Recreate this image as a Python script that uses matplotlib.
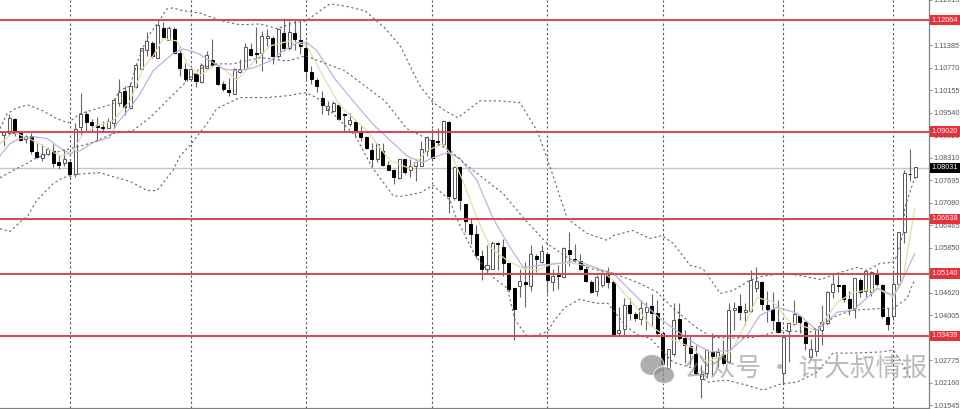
import numpy as np
import matplotlib
matplotlib.use("Agg")
import matplotlib.pyplot as plt
from matplotlib.patches import Ellipse

# candles, first one is bar number 1
opens = [1.0894,1.0897,1.0937,1.0897,1.0883,1.0891,1.0847,1.0831,1.0842,1.0850,1.0820,1.0815,1.0820,1.0785,1.0915,
         1.0951,1.0929,1.0921,1.0915,1.0913,1.0926,1.0981,1.1014,1.0967,1.1025,1.1074,1.1125,1.1145,1.1104,1.1185,
         1.1153,1.1183,1.1117,1.1074,1.1046,1.1060,1.1038,1.1076,1.1098,1.1079,1.1033,1.1016,1.1005,1.1065,1.1074,
         1.1128,1.1117,1.1117,1.1158,1.1158,1.1109,1.1172,1.1131,1.1172,1.1153,1.1131,1.1065,1.1043,1.0995,1.0962,
         1.0959,1.0975,1.0951,1.0924,1.0929,1.0900,1.0888,1.0853,1.0826,1.0850,1.0812,1.0798,1.0774,1.0826,1.0796,
         1.0809,1.0809,1.0850,1.0880,1.0877,1.0869,1.0929,1.0722,1.0804,1.0703,1.0651,1.0621,1.0561,1.0528,1.0528,
         1.0599,1.0588,1.0542,1.0474,1.0479,1.0490,1.0479,1.0561,1.0545,1.0569,1.0490,1.0509,1.0504,1.0578,1.0553,
         1.0548,1.0526,1.0490,1.0466,1.0482,1.0509,1.0490,1.0351,1.0362,1.0428,1.0403,1.0389,1.0409,1.0425,1.0406,
         1.0351,1.0256,1.0294,1.0389,1.0338,1.0316,1.0294,1.0226,1.0242,1.0300,1.0286,1.0294,1.0272,1.0414,1.0425,
         1.0409,1.0411,1.0474,1.0490,1.0428,1.0417,1.0381,1.0242,1.0357,1.0376,1.0398,1.0381,1.0286,1.0302,1.0359,
         1.0379,1.0463,1.0482,1.0482,1.0444,1.0419,1.0498,1.0466,1.0463,1.0515,1.0482,1.0395,1.0398,1.0487,1.0629,
         1.0787,1.0777]
highs = [1.0902,1.0951,1.0938,1.0898,1.0894,1.0897,1.0872,1.0869,1.0861,1.0869,1.0839,1.0855,1.0823,1.0926,1.1008,
         1.0959,1.0937,1.0943,1.0932,1.0940,1.0995,1.1046,1.1027,1.1035,1.1090,1.1131,1.1174,1.1150,1.1202,1.1202,
         1.1191,1.1188,1.1136,1.1090,1.1079,1.1063,1.1090,1.1123,1.1155,1.1082,1.1041,1.1049,1.1076,1.1101,1.1145,
         1.1145,1.1188,1.1177,1.1183,1.1164,1.1185,1.1213,1.1204,1.1207,1.1204,1.1150,1.1082,1.1049,1.1014,1.0986,
         1.0986,1.0981,1.0954,1.0954,1.0932,1.0918,1.0891,1.0872,1.0870,1.0872,1.0823,1.0801,1.0828,1.0828,1.0828,
         1.0828,1.0877,1.0891,1.0910,1.0913,1.0935,1.0932,1.0807,1.0807,1.0704,1.0665,1.0646,1.0580,1.0591,1.0602,
         1.0600,1.0610,1.0543,1.0475,1.0528,1.0545,1.0591,1.0569,1.0591,1.0570,1.0528,1.0537,1.0586,1.0629,1.0594,
         1.0567,1.0534,1.0496,1.0509,1.0523,1.0531,1.0496,1.0422,1.0447,1.0447,1.0409,1.0441,1.0436,1.0458,1.0441,
         1.0354,1.0308,1.0433,1.0433,1.0359,1.0346,1.0319,1.0264,1.0308,1.0351,1.0311,1.0332,1.0433,1.0436,1.0458,
         1.0433,1.0523,1.0531,1.0493,1.0468,1.0463,1.0441,1.0340,1.0379,1.0441,1.0400,1.0382,1.0335,1.0363,1.0428,
         1.0466,1.0512,1.0509,1.0487,1.0468,1.0502,1.0502,1.0523,1.0520,1.0528,1.0487,1.0419,1.0523,1.0628,1.0796,
         1.0855,1.0805]
lows = [1.0863,1.0894,1.0891,1.0877,1.0872,1.0842,1.0831,1.0823,1.0839,1.0804,1.0801,1.0809,1.0777,1.0779,1.0891,
        1.0905,1.0905,1.0877,1.0905,1.0912,1.0913,1.0973,1.0948,1.0965,1.1022,1.1073,1.1109,1.1104,1.1103,1.1158,
        1.1152,1.1115,1.1055,1.1041,1.1041,1.1025,1.1035,1.1075,1.1082,1.1030,1.1014,1.1000,1.1004,1.1063,1.1073,
        1.1109,1.1090,1.1068,1.1136,1.1087,1.1104,1.1123,1.1125,1.1125,1.1115,1.1041,1.1033,1.1011,1.0951,1.0948,
        1.0956,1.0935,1.0900,1.0918,1.0886,1.0877,1.0855,1.0809,1.0820,1.0809,1.0796,1.0760,1.0773,1.0787,1.0779,
        1.0768,1.0808,1.0836,1.0823,1.0864,1.0864,1.0681,1.0714,1.0687,1.0627,1.0594,1.0558,1.0496,1.0512,1.0527,
        1.0523,1.0507,1.0463,1.0332,1.0449,1.0422,1.0468,1.0518,1.0544,1.0460,1.0468,1.0471,1.0503,1.0534,1.0545,
        1.0523,1.0490,1.0460,1.0452,1.0477,1.0474,1.0346,1.0343,1.0343,1.0387,1.0384,1.0373,1.0359,1.0370,1.0346,
        1.0245,1.0253,1.0289,1.0332,1.0270,1.0264,1.0241,1.0174,1.0229,1.0237,1.0259,1.0264,1.0270,1.0359,1.0387,
        1.0373,1.0409,1.0463,1.0414,1.0381,1.0359,1.0351,1.0215,1.0272,1.0373,1.0351,1.0305,1.0283,1.0289,1.0319,
        1.0373,1.0447,1.0463,1.0436,1.0400,1.0392,1.0449,1.0449,1.0452,1.0479,1.0392,1.0359,1.0387,1.0485,1.0597,
        1.0766,1.0776]
closes = [1.0900,1.0940,1.0897,1.0880,1.0891,1.0850,1.0834,1.0842,1.0855,1.0817,1.0812,1.0826,1.0787,1.0910,1.0951,
          1.0929,1.0921,1.0915,1.0913,1.0932,1.0989,1.1011,1.0970,1.1027,1.1084,1.1130,1.1150,1.1109,1.1194,1.1161,
          1.1185,1.1117,1.1076,1.1046,1.1074,1.1041,1.1084,1.1112,1.1084,1.1033,1.1019,1.1011,1.1074,1.1074,1.1134,
          1.1112,1.1115,1.1164,1.1164,1.1109,1.1183,1.1131,1.1174,1.1155,1.1136,1.1068,1.1046,1.1027,1.0975,1.0973,
          1.0981,1.0937,1.0948,1.0935,1.0905,1.0888,1.0858,1.0826,1.0869,1.0812,1.0798,1.0779,1.0828,1.0793,1.0809,
          1.0820,1.0855,1.0886,1.0831,1.0875,1.0932,1.0727,1.0804,1.0716,1.0657,1.0621,1.0564,1.0528,1.0537,1.0599,
          1.0596,1.0542,1.0471,1.0417,1.0493,1.0487,1.0567,1.0553,1.0575,1.0496,1.0507,1.0507,1.0585,1.0567,1.0550,
          1.0528,1.0493,1.0463,1.0504,1.0515,1.0490,1.0348,1.0359,1.0428,1.0406,1.0392,1.0419,1.0422,1.0406,1.0351,
          1.0267,1.0308,1.0387,1.0338,1.0319,1.0297,1.0242,1.0239,1.0305,1.0289,1.0300,1.0270,1.0414,1.0419,1.0409,
          1.0414,1.0496,1.0493,1.0430,1.0417,1.0387,1.0354,1.0340,1.0379,1.0403,1.0381,1.0324,1.0308,1.0362,1.0381,
          1.0463,1.0487,1.0479,1.0444,1.0419,1.0501,1.0463,1.0520,1.0518,1.0485,1.0398,1.0376,1.0487,1.0627,1.0790,
          1.0785,1.0804]

# bands and averages at these bar numbers
upper_x = [0.3,1.6,3.4,5.4,8.1,10.7,12.7,14.9,18.5,20.9,22.0,24.0,25.4,27.1,28.9,30.7,31.8,33.6,36.7,39.1,40.9,44.0,47.7,50.8,53.7,56.0,58.6,60.4,63.1,66.8,70.4,73.2,76.8,79.2,81.4,83.7,85.9,87.7,91.4,95.0,98.1,100.1,103.6,107.2,110.9,112.0,115.6,118.7,120.9,122.9,126.0,128.3,131.5,133.8,136.9,139.3,142.9,146.0,149.7,152.8,156.4,158.2,160.6,163.0,163.7,164.8,165.1,166.9]
upper_y = [1.0910,1.0951,1.0967,1.0975,1.0959,1.0937,1.0926,1.0951,1.0967,1.0978,1.1014,1.1027,1.1095,1.1158,1.1196,1.1237,1.1240,1.1232,1.1226,1.1213,1.1204,1.1194,1.1196,1.1183,1.1199,1.1204,1.1232,1.1251,1.1245,1.1232,1.1185,1.1136,1.1027,1.0981,1.0959,1.0940,1.0965,1.0986,1.0986,1.0981,1.0905,1.0823,1.0665,1.0624,1.0605,1.0618,1.0632,1.0610,1.0618,1.0597,1.0537,1.0528,1.0460,1.0468,1.0496,1.0507,1.0515,1.0509,1.0498,1.0515,1.0531,1.0523,1.0542,1.0545,1.0564,1.0627,1.0695,1.0776]
band2_x = [0.3,2.7,5.2,7.0,13.0,17.2,20.9,24.5,27.6,30.7,34.4,36.7,39.8,42.7,47.7,52.6,56.0,63.1,70.4,74.4,79.5,82.3,85.4,91.9,95.6,99.9,103.6,107.8,112.0,116.9,120.0,122.9,127.3,130.0,133.3,137.5,142.9,147.8,152.8,155.7,160.6,163.0,165.5,166.9]
band2_y = [1.0776,1.0796,1.0815,1.0831,1.0855,1.0872,1.0897,1.0905,1.0940,1.0986,1.1041,1.1074,1.1087,1.1087,1.1104,1.1095,1.1109,1.1068,1.0986,1.0910,1.0872,1.0850,1.0809,1.0733,1.0667,1.0597,1.0558,1.0528,1.0515,1.0487,1.0463,1.0419,1.0365,1.0340,1.0338,1.0340,1.0359,1.0354,1.0400,1.0414,1.0419,1.0419,1.0447,1.0498]
lower_x = [0.3,2.1,3.9,5.4,7.0,10.0,11.8,14.0,18.5,21.6,24.0,27.1,28.9,31.8,33.1,34.9,38.0,39.8,44.0,48.9,52.6,55.9,58.0,65.0,68.1,71.9,73.2,76.8,79.2,82.3,83.2,86.8,90.1,92.7,94.1,96.3,98.1,100.1,101.0,103.2,105.9,109.0,111.0,112.0,114.5,116.9,118.7,122.9,126.5,129.1,132.7,136.4,139.3,142.4,145.5,149.1,152.0,155.7,160.6,163.0,164.8,166.1]
lower_y = [1.0637,1.0629,1.0654,1.0673,1.0714,1.0760,1.0776,1.0785,1.0790,1.0776,1.0766,1.0741,1.0741,1.0796,1.0836,1.0864,1.0924,1.0965,1.0995,1.0995,1.1000,1.1008,1.0995,1.0891,1.0804,1.0727,1.0725,1.0735,1.0755,1.0714,1.0673,1.0564,1.0504,1.0474,1.0387,1.0343,1.0346,1.0357,1.0381,1.0422,1.0444,1.0433,1.0433,1.0414,1.0368,1.0343,1.0338,1.0272,1.0256,1.0218,1.0223,1.0209,1.0196,1.0212,1.0218,1.0245,1.0297,1.0297,1.0300,1.0305,1.0264,1.0229]
slow_x = [0.3,2.1,3.9,6.3,8.9,11.2,13.0,14.9,17.2,20.3,21.6,24.0,25.8,28.2,30.7,31.8,33.6,36.2,38.6,40.9,43.5,46.4,49.5,51.9,54.4,56.2,58.0,61.3,64.6,68.1,70.8,74.4,77.2,79.2,81.9,84.1,87.2,90.1,93.2,95.6,98.7,102.3,105.4,109.0,112.0,116.9,120.5,122.9,127.3,129.6,133.3,136.4,138.7,141.8,145.5,149.1,152.8,155.7,160.1,163.0,164.2,166.9]
slow_y = [1.0836,1.0869,1.0883,1.0888,1.0883,1.0858,1.0842,1.0850,1.0872,1.0886,1.0924,1.0967,1.1005,1.1068,1.1101,1.1115,1.1128,1.1117,1.1095,1.1074,1.1068,1.1076,1.1095,1.1123,1.1145,1.1145,1.1123,1.1046,1.0986,1.0924,1.0886,1.0836,1.0817,1.0831,1.0845,1.0828,1.0768,1.0665,1.0586,1.0531,1.0537,1.0542,1.0550,1.0528,1.0515,1.0441,1.0392,1.0365,1.0319,1.0300,1.0305,1.0346,1.0400,1.0422,1.0406,1.0359,1.0409,1.0414,1.0474,1.0455,1.0482,1.0569]
fast_x = [0.3,2.7,5.2,8.1,11.2,13.4,15.4,18.0,20.9,24.0,26.3,28.2,30.0,32.5,34.4,36.7,39.8,43.5,46.4,49.5,53.1,56.2,58.6,62.2,67.1,71.3,75.0,78.1,81.0,82.6,84.6,87.2,89.6,92.7,95.6,98.1,101.0,104.7,109.0,112.0,116.9,118.7,121.8,126.5,129.1,133.3,135.1,138.2,141.1,144.2,149.1,152.8,155.7,160.1,163.0,164.8,166.9]
fast_y = [1.0869,1.0900,1.0886,1.0864,1.0836,1.0842,1.0897,1.0918,1.0932,1.0986,1.1074,1.1109,1.1155,1.1150,1.1087,1.1055,1.1087,1.1043,1.1090,1.1136,1.1150,1.1136,1.1068,1.0973,1.0905,1.0823,1.0801,1.0850,1.0869,1.0836,1.0768,1.0665,1.0586,1.0550,1.0528,1.0523,1.0542,1.0542,1.0531,1.0496,1.0409,1.0373,1.0340,1.0311,1.0272,1.0300,1.0346,1.0449,1.0436,1.0381,1.0359,1.0436,1.0463,1.0474,1.0449,1.0504,1.0692]

levels = [1.12064, 1.09020, 1.06638, 1.05140, 1.03439]
last_price = 1.08031
price_ticks = [1.12615, 1.12000, 1.11385, 1.10770, 1.10155, 1.09540, 1.08925, 1.08310, 1.07695, 1.07080,
               1.06465, 1.05850, 1.05235, 1.04620, 1.04005, 1.03390, 1.02775, 1.02160, 1.01545]
period_bars = [13, 35, 56, 79, 100, 121, 143, 163]
watermark = "公众号 · 许大叔情报"

W, H = 960, 409
fig = plt.figure(figsize=(W / 100, H / 100), dpi=100, facecolor="white")
ax = fig.add_axes([0, 1.3 / H, 929 / W, 407.7 / H])
ax.set_xlim(0.304, 169.5)
ax.set_ylim(1.01479, 1.12593)

for s in ["top", "left"]:
    ax.spines[s].set_visible(False)
for s in ["right", "bottom"]:
    ax.spines[s].set_color("#808080")
    ax.spines[s].set_linewidth(0.9)

ax.set_xticks([])
ax.yaxis.tick_right()
ax.set_yticks(price_ticks)
ax.set_yticklabels(["%.5f" % t for t in price_ticks], fontsize=5.2, color="#555555", family="Liberation Sans")
ax.tick_params(axis="y", length=2, width=0.6, color="#808080", pad=1.5)

# grid of periods and the current price
for b in period_bars:
    ax.axvline(b, color="#555555", lw=0.8, ls=(0, (2, 2.2)), zorder=1)
ax.axhline(last_price, color="#c4c4c4", lw=1.0, zorder=1)

# candles
bars = np.arange(1, len(opens) + 1)
o = np.array(opens)
c = np.array(closes)
ax.vlines(bars, lows, highs, color="#666666", lw=0.8, zorder=2)
up = c >= o
ax.bar(bars[up], (c - o)[up], bottom=o[up], width=0.55, facecolor="white", edgecolor="#555555", lw=0.7, zorder=3)
ax.bar(bars[~up], (c - o)[~up], bottom=o[~up], width=0.55, facecolor="black", edgecolor="black", lw=0.7, zorder=3)

# averages and bands
ax.plot(fast_x, fast_y, color="#edd9a8", lw=0.9, zorder=4)
ax.plot(slow_x, slow_y, color="#bcb2de", lw=0.9, zorder=4)
for xs, ys in [(upper_x, upper_y), (band2_x, band2_y), (lower_x, lower_y)]:
    ax.plot(xs, ys, color="#666666", lw=0.8, ls=(0, (2, 2.4)), zorder=4)

# horizontal levels with their price boxes
for lv in levels:
    ax.axhline(lv, color="#dc4450", lw=1.4, zorder=5)
    ax.annotate("%.5f" % lv, xy=(1, lv), xycoords=("axes fraction", "data"), xytext=(2.0, 0),
                textcoords="offset points", fontsize=5.2, color="white", va="center", ha="left",
                family="Liberation Sans", zorder=6, annotation_clip=False,
                bbox=dict(boxstyle="square,pad=0.25", fc="#e8303a", ec="none"))
ax.annotate("%.5f" % last_price, xy=(1, last_price), xycoords=("axes fraction", "data"), xytext=(2.0, 0),
            textcoords="offset points", fontsize=5.2, color="white", va="center", ha="left",
            family="Liberation Sans", zorder=6, annotation_clip=False,
            bbox=dict(boxstyle="square,pad=0.25", fc="black", ec="none"))

# watermark, wechat icon and the account name
grey = "#8c8c8c"
for cx, cy, w, h in [(652, 365, 24, 21), (664, 375, 21, 17)]:
    fig.add_artist(Ellipse((cx / W, 1 - cy / H), w / W, h / H, transform=fig.transFigure,
                           fc=grey, ec="white", lw=0.8, alpha=0.7))
fig.text(684 / W, 1 - 370 / H, watermark, fontsize=18.5, color=grey, alpha=0.6, va="center", ha="left",
         family=["Noto Sans CJK SC", "DejaVu Sans"])

fig.savefig("out.png", dpi=100, facecolor="white")
